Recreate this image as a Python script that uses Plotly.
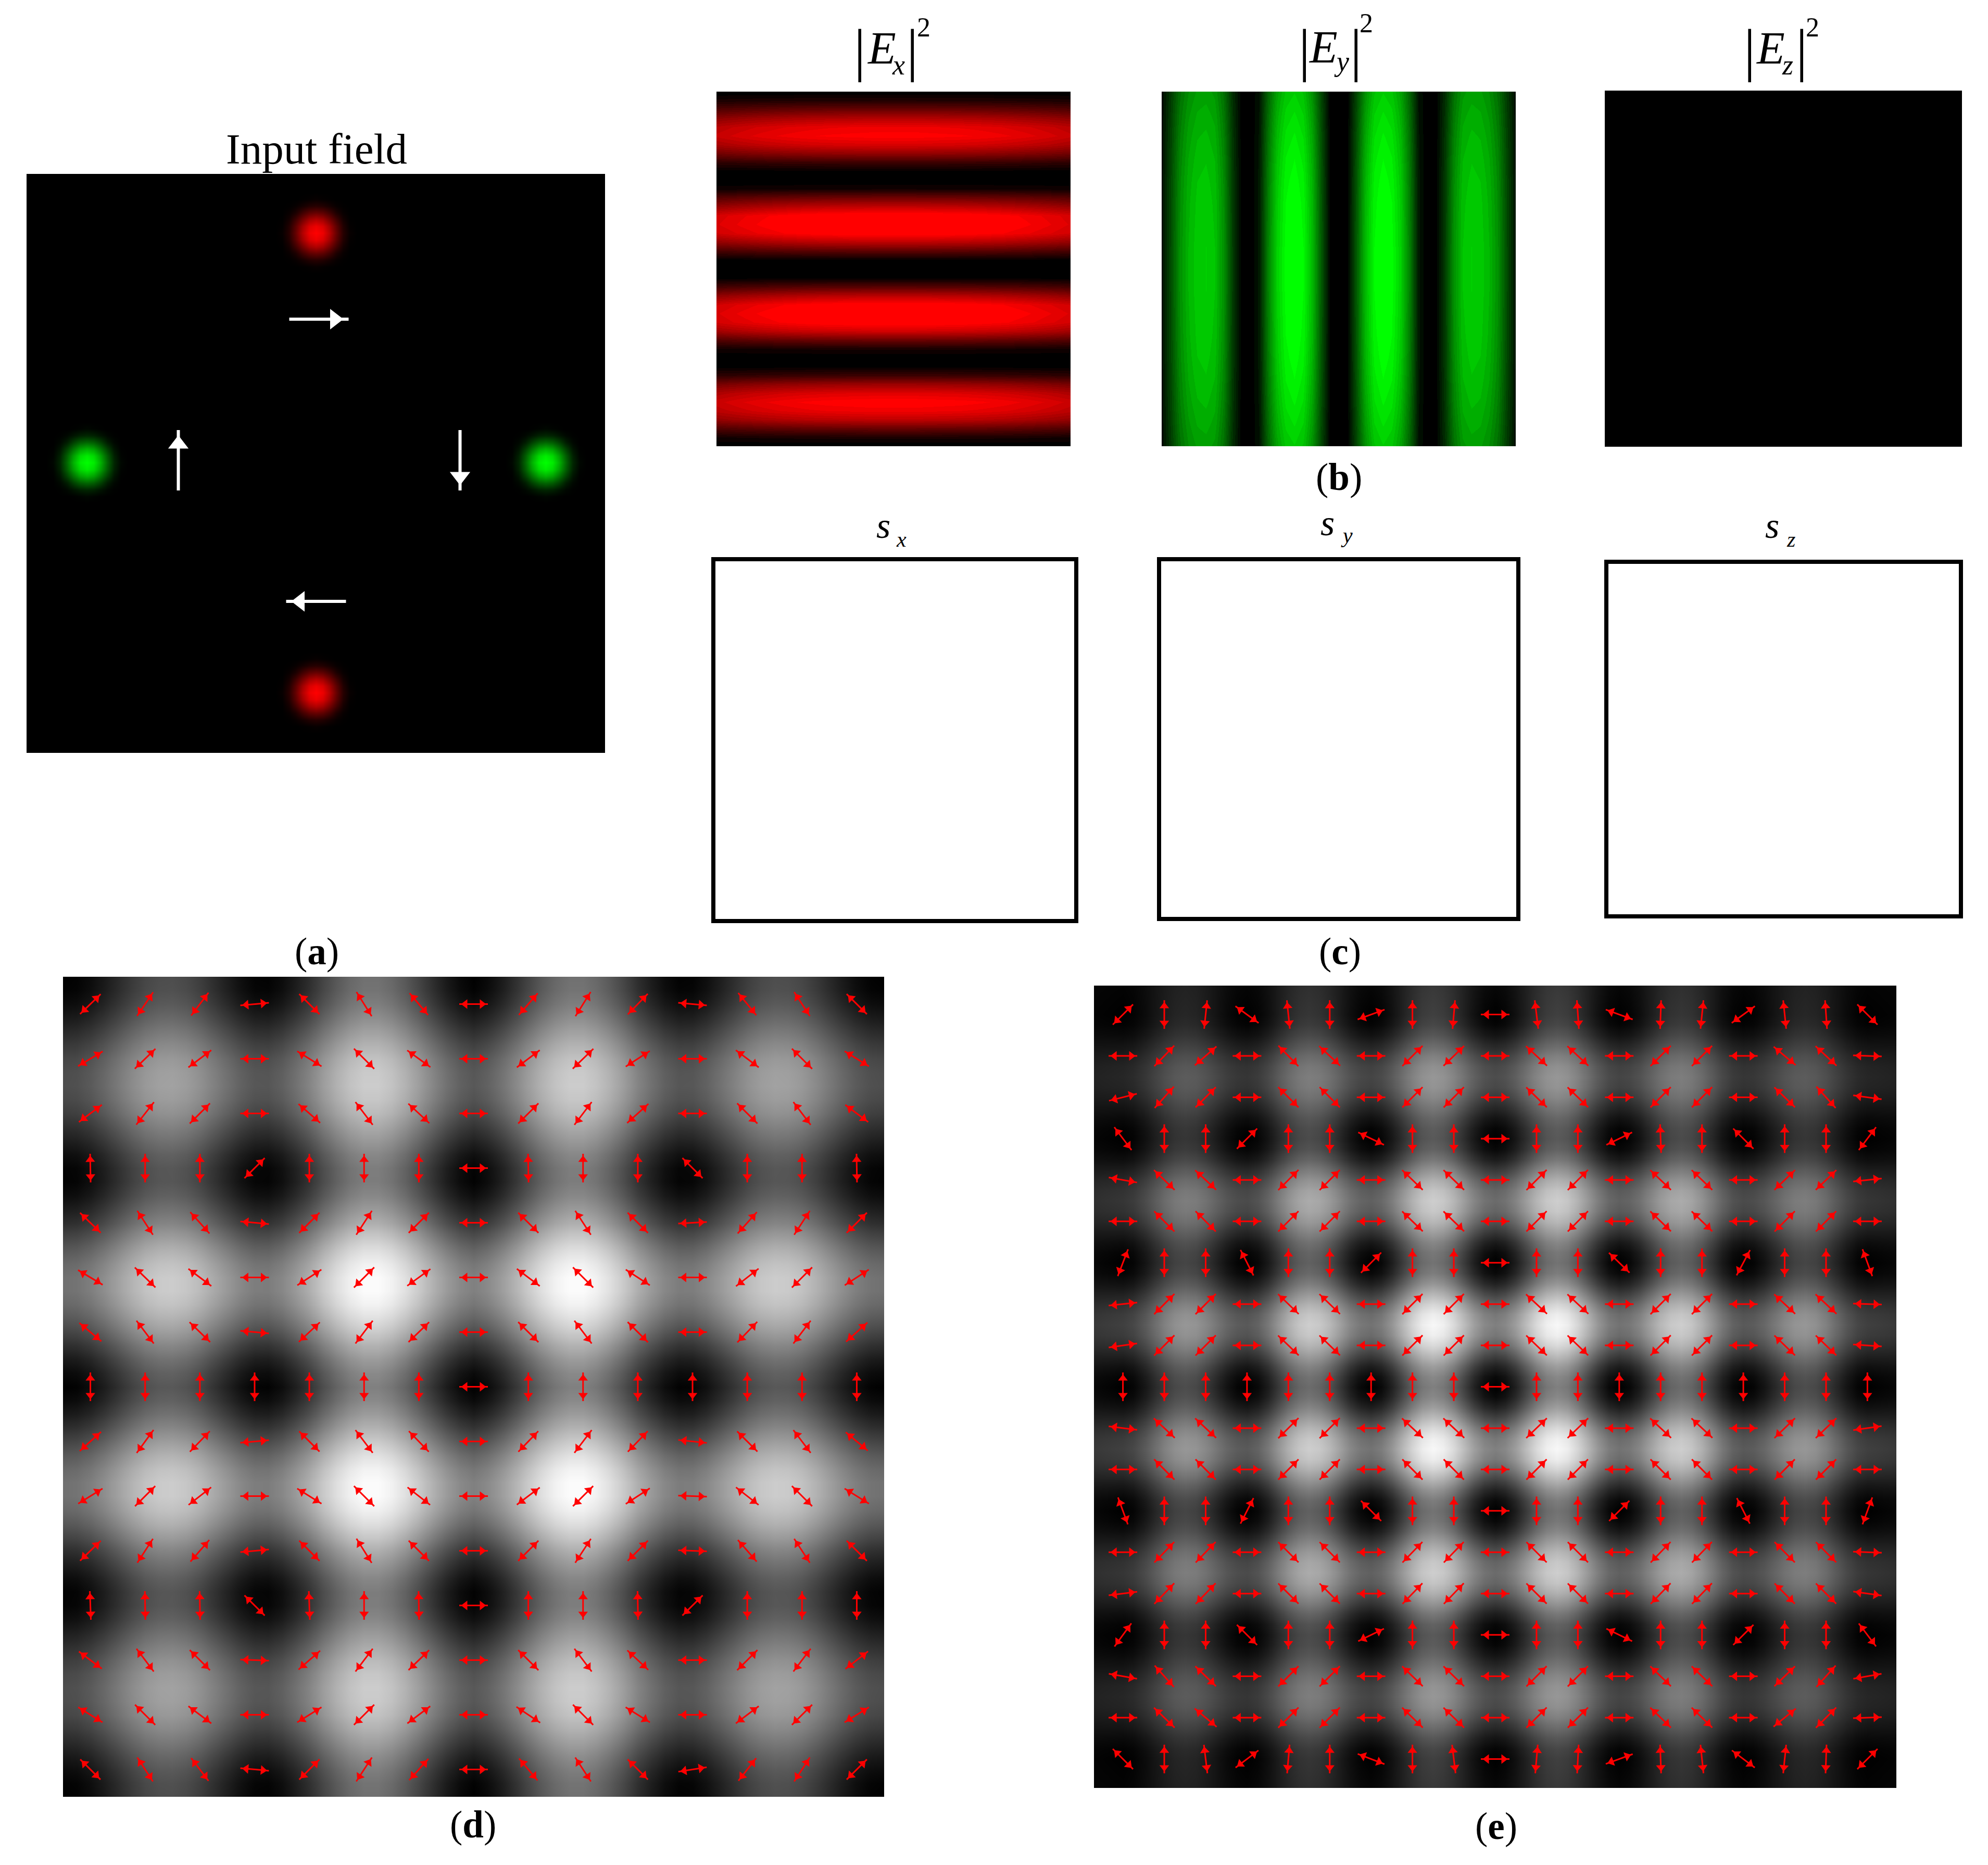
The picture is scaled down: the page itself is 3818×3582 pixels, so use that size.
import numpy as np
import plotly.graph_objects as go

W, H = 3818, 3582

# ---------- values ----------
spot_offsets = [-78, -65, -52, -39, -26, -13, 0, 13, 26, 39, 52, 65, 78]
spot_values = [
    [0, 0, 0, 0, 0, 0, 0, 0, 0, 0, 0, 0, 0],
    [0, 0, 0, 0, .005, .015, .03, .015, .005, 0, 0, 0, 0],
    [0, 0, .005, .03, .08, .13, .15, .13, .08, .03, .005, 0, 0],
    [0, 0, .03, .11, .25, .36, .40, .36, .25, .11, .03, 0, 0],
    [0, .005, .08, .25, .45, .63, .70, .63, .45, .25, .08, .005, 0],
    [0, .015, .13, .36, .63, .85, .93, .85, .63, .36, .13, .015, 0],
    [0, .03, .15, .40, .70, .93, 1.0, .93, .70, .40, .15, .03, 0],
    [0, .015, .13, .36, .63, .85, .93, .85, .63, .36, .13, .015, 0],
    [0, .005, .08, .25, .45, .63, .70, .63, .45, .25, .08, .005, 0],
    [0, 0, .03, .11, .25, .36, .40, .36, .25, .11, .03, 0, 0],
    [0, 0, .005, .03, .08, .13, .15, .13, .08, .03, .005, 0, 0],
    [0, 0, 0, 0, .005, .015, .03, .015, .005, 0, 0, 0, 0],
    [0, 0, 0, 0, 0, 0, 0, 0, 0, 0, 0, 0, 0],
]
red_spot_x = [0, 0]
red_spot_y = [-443, 440]
green_spot_x = [-440, 441]
green_spot_y = [-2, -2]

white_x0 = [-51, -264, 277, 58]
white_y0 = [-277, 52, -64, 265]
white_x1 = [63, -264, 277, -57]
white_y1 = [-277, -64, 52, 265]

ex_rows = [0, .12, .40, .73, .92, 1.0, .86, .60, .24, .03, 0, .11, .42, .80, 1.03, 1.08, 1.02, .72, .35, .04, 0,
           .04, .36, .72, 1.02, 1.08, 1.05, .75, .44, .10, 0, .03, .24, .56, .83, .98, .91, .69, .41, .15, 0]
ex_cols = [.78, .84, .89, .93, .96, .98, .99, 1, 1, 1, .99, .98, .96, .93, .89, .84, .78]
ey_cols = [.08, .30, .55, .70, .78, .80, .75, .56, .25, .03, 0, .12, .50, .80, .97, 1.02, .95, .72, .36, .04, 0,
           .04, .36, .72, .95, 1.02, .97, .80, .50, .12, 0, .03, .25, .56, .75, .80, .78, .70, .55, .30, .08]
ey_rows = [.78, .84, .89, .93, .96, .98, .99, 1, 1, 1, .99, .98, .96, .93, .89, .84, .78]
ez_values = [[0, 0], [0, 0]]

d_grid = [-.5, -.25, 0, .25, .5, .75, 1, 1.25, 1.5, 1.75, 2, 2.25, 2.5, 2.75, 3, 3.25, 3.5, 3.75, 4, 4.25, 4.5, 4.75,
          5, 5.25, 5.5, 5.75, 6, 6.25, 6.5, 6.75, 7, 7.25, 7.5, 7.75, 8, 8.25, 8.5, 8.75, 9, 9.25, 9.5, 9.75, 10,
          10.25, 10.5, 10.75, 11, 11.25, 11.5, 11.75, 12, 12.25, 12.5, 12.75, 13, 13.25, 13.5, 13.75, 14, 14.25, 14.5]
d_band = [0, .01, .05, .11, .18, .25, .31, .34, .345, .32, .27, .20, .13, .06, .015, .01, .05, .12, .20, .30, .39, .46,
          .50, .50, .46, .39, .30, .20, .11, .04, 0, .04, .11, .20, .30, .39, .46, .50, .50, .46, .39, .30, .20,
          .12, .05, .01, .015, .06, .13, .20, .27, .32, .345, .34, .31, .25, .18, .11, .05, .01, 0]
d_fade = [.88, .885, .89, .895, .90, .905, .91, .915, .92, .925, .93, .935, .94, .945, .95, .955, .96, .965, .97, .975,
          .98, .98, .985, .985, .99, .99, .995, .995, 1, 1, 1, 1, 1, .995, .995, .99, .99, .985, .985, .98, .98,
          .975, .97, .965, .96, .955, .95, .945, .94, .935, .93, .925, .92, .915, .91, .905, .90, .895, .89, .885, .88]

e_grid = [-.75, -.5, -.25, 0, .25, .5, .75, 1, 1.25, 1.5, 1.75, 2, 2.25, 2.5, 2.75, 3, 3.25, 3.5, 3.75, 4, 4.25, 4.5,
          4.75, 5, 5.25, 5.5, 5.75, 6, 6.25, 6.5, 6.75, 7, 7.25, 7.5, 7.75, 8, 8.25, 8.5, 8.75, 9, 9.25, 9.5, 9.75,
          10, 10.25, 10.5, 10.75, 11, 11.25, 11.5, 11.75, 12, 12.25, 12.5, 12.75, 13, 13.25, 13.5, 13.75, 14, 14.25,
          14.5, 14.75, 15, 15.25, 15.5, 15.75, 16, 16.25, 16.5, 16.75, 17, 17.25, 17.5, 17.75, 18, 18.25, 18.5, 18.75]
e_band = [.03, .02, .01, 0, .02, .075, .15, .225, .28, .30, .28, .225, .15, .075, .02, 0,
          .03, .105, .21, .315, .39, .42, .39, .315, .21, .105, .03, 0,
          .035, .125, .25, .375, .465, .50, .465, .375, .25, .125, .035, 0,
          .035, .125, .25, .375, .465, .50, .465, .375, .25, .125, .035, 0,
          .03, .105, .21, .315, .39, .42, .39, .315, .21, .105, .03, 0,
          .02, .075, .15, .225, .28, .30, .28, .225, .15, .075, .02, 0, .01, .02, .03]
e_fade = [.38, .42, .46, .50, .52, .535, .55, .57, .585, .60, .615, .635, .65, .665, .685, .70, .715, .735, .75, .765,
          .785, .80, .815, .835, .85, .865, .885, .90, .91, .925, .94, .95, .96, .97, .98, .985, .99, .995, 1.0, 1.0,
          1.0, .995, .99, .985, .98, .97, .96, .95, .94, .925, .91, .90, .885, .865, .85, .835, .815, .80, .785, .765,
          .75, .735, .715, .70, .685, .665, .65, .635, .615, .60, .585, .57, .55, .535, .52, .50, .46, .42, .38]

# orientation of each double arrow, degrees counter-clockwise from +x, top row first
d_angles = [
    [44, 56, 53, 5, 135, 122, 130, 0, 49, 58, 46, 175, 129, 123, 135],
    [31, 44, 37, 0, 148, 135, 144, 0, 37, 44, 33, 0, 143, 135, 148],
    [37, 52, 45, 0, 139, 127, 137, 0, 45, 53, 42, 0, 135, 127, 143],
    [91, 90, 90, 45, 90, 90, 90, 0, 91, 90, 90, 135, 90, 90, 91],
    [136, 123, 132, 175, 45, 57, 45, 0, 135, 123, 135, 3, 48, 57, 45],
    [149, 136, 143, 0, 33, 45, 36, 0, 143, 135, 147, 0, 38, 45, 33],
    [140, 127, 136, 175, 43, 53, 44, 0, 135, 127, 135, 0, 46, 53, 42],
    [90, 90, 90, 90, 90, 90, 90, 0, 90, 90, 90, 90, 90, 90, 90],
    [42, 54, 46, 5, 135, 127, 134, 0, 46, 53, 46, 174, 135, 127, 140],
    [32, 45, 38, 0, 148, 135, 142, 0, 37, 45, 33, 178, 142, 135, 148],
    [44, 57, 49, 5, 135, 122, 135, 0, 45, 57, 45, 178, 131, 123, 135],
    [92, 91, 91, 135, 92, 90, 91, 0, 90, 90, 91, 45, 90, 90, 90],
    [143, 127, 135, 178, 41, 53, 44, 0, 135, 127, 137, 0, 45, 53, 38],
    [148, 135, 143, 0, 32, 45, 37, 0, 146, 135, 148, 0, 37, 45, 32],
    [135, 123, 127, 175, 45, 57, 48, 0, 130, 123, 135, 9, 52, 57, 45],
]
e_angles = [
    [45, 90, 84, 144, 96, 90, 20, 90, 85, 0, 97, 94, 160, 88, 84, 36, 96, 94, 135],
    [0, 46, 41, 0, 134, 137, 0, 45, 44, 0, 137, 137, 0, 45, 45, 0, 140, 137, 178],
    [14, 48, 45, 0, 135, 135, 0, 45, 45, 0, 136, 136, 0, 45, 45, 0, 136, 132, 172],
    [127, 90, 90, 45, 90, 90, 154, 90, 90, 0, 90, 90, 26, 92, 90, 135, 90, 90, 53],
    [170, 136, 137, 0, 45, 45, 0, 136, 136, 0, 45, 45, 0, 136, 136, 0, 44, 44, 6],
    [0, 135, 135, 0, 45, 45, 0, 136, 136, 0, 45, 45, 0, 136, 136, 0, 45, 45, 0],
    [69, 90, 90, 117, 90, 90, 45, 90, 90, 0, 90, 90, 136, 90, 90, 62, 90, 90, 110],
    [6, 45, 45, 0, 136, 136, 0, 45, 45, 0, 137, 137, 0, 45, 45, 0, 137, 137, 178],
    [8, 45, 45, 0, 136, 136, 0, 45, 45, 0, 136, 136, 0, 45, 45, 0, 136, 136, 176],
    [90, 90, 90, 90, 90, 90, 90, 90, 90, 0, 90, 90, 90, 90, 90, 90, 90, 90, 90],
    [173, 137, 137, 0, 45, 45, 0, 137, 137, 0, 44, 44, 0, 137, 137, 0, 44, 44, 8],
    [0, 135, 135, 0, 45, 45, 0, 135, 135, 0, 45, 45, 0, 135, 135, 0, 45, 45, 0],
    [110, 90, 90, 63, 90, 90, 135, 90, 90, 0, 90, 90, 45, 90, 90, 117, 90, 90, 70],
    [0, 46, 46, 0, 135, 135, 0, 46, 46, 0, 135, 135, 0, 46, 46, 0, 135, 135, 178],
    [7, 46, 46, 0, 135, 135, 0, 46, 46, 0, 135, 135, 0, 46, 46, 0, 135, 135, 172],
    [54, 90, 90, 135, 90, 90, 26, 90, 90, 0, 90, 90, 154, 90, 90, 45, 90, 90, 127],
    [170, 132, 136, 0, 45, 45, 0, 136, 136, 0, 45, 45, 0, 136, 136, 0, 44, 48, 10],
    [0, 136, 140, 0, 45, 45, 0, 136, 136, 0, 45, 45, 0, 136, 136, 0, 39, 45, 2],
    [135, 90, 97, 37, 85, 90, 159, 90, 97, 0, 85, 87, 20, 92, 96, 143, 84, 88, 45],
]

# ---------- layout helpers ----------
fig = go.Figure()
axis_count = 0


def panel(x0, x1, y0, y1, xr, yr):
    global axis_count
    axis_count += 1
    n = axis_count
    fig.layout[f"xaxis{n}"] = dict(domain=[x0 / W, x1 / W], range=list(xr), visible=False, fixedrange=True,
                                   anchor=f"y{n}")
    fig.layout[f"yaxis{n}"] = dict(domain=[1 - y1 / H, 1 - y0 / H], range=list(yr), visible=False, fixedrange=True,
                                   anchor=f"x{n}")
    return f"x{n}", f"y{n}"


def stepped(colour_of, levels=20):
    scale = []
    for i in range(levels):
        c = colour_of(i / (levels - 1))
        scale += [[i / levels, c], [(i + 1) / levels, c]]
    return scale


RED = [[0, "#000000"], [1, "#ff0000"]]
GREEN = [[0, "#000000"], [1, "#00ff00"]]
GRAY = [[0, "#000000"], [1, "#ffffff"]]
RED_STEP = stepped(lambda t: f"rgb({round(255 * t)},0,0)")
GREEN_STEP = stepped(lambda t: f"rgb(0,{round(255 * t)},0)")


def heat(ax, z, x, y, scale, smooth="best"):
    fig.add_trace(go.Heatmap(z=z, x=x, y=y, xaxis=ax[0], yaxis=ax[1], colorscale=scale, zmin=0, zmax=1,
                             zsmooth=smooth, showscale=False, hoverinfo="skip"))


def double_arrows(ax, angles, cell_px):
    half = 27.5 / cell_px
    head = 16.0 / cell_px
    lx, ly, mx, my, ma = [], [], [], [], []
    for r, row in enumerate(angles):
        for c, a in enumerate(row):
            ca, sa = np.cos(np.radians(a)), np.sin(np.radians(a))
            lx += [c - half * ca, c + half * ca, None]
            ly += [r + half * sa, r - half * sa, None]
            mx += [c + head * ca, c - head * ca]
            my += [r - head * sa, r + head * sa]
            ma += [90 - a, 270 - a]
    fig.add_trace(go.Scatter(x=lx, y=ly, xaxis=ax[0], yaxis=ax[1], mode="lines",
                             line=dict(color="#ff0000", width=3), hoverinfo="skip"))
    fig.add_trace(go.Scatter(x=mx, y=my, xaxis=ax[0], yaxis=ax[1], mode="markers", hoverinfo="skip",
                             marker=dict(symbol="triangle-up", size=16, color="#ff0000", angle=ma,
                                         line=dict(width=0))))


def label(x, base, text, size, style=""):
    """x = centre in page pixels, base = text baseline in page pixels"""
    if style == "i":
        text = f"<i>{text}</i>"
    fig.add_annotation(xref="paper", yref="paper", x=x / W, y=1 - (base + 0.21 * size) / H, text=text,
                       showarrow=False, xanchor="center", yanchor="bottom", borderpad=0, borderwidth=0,
                       font=dict(family="Liberation Serif", size=size, color="#000000"))


# ---------- (a) input field ----------
ax_a = panel(51, 1162, 334, 1446, (-555.5, 555.5), (556, -556))
heat(ax_a, ez_values, [-556, 556], [-556, 556], RED)
for cx, cy in zip(red_spot_x, red_spot_y):
    heat(ax_a, spot_values, [cx + o for o in spot_offsets], [cy + o for o in spot_offsets], RED)
for cx, cy in zip(green_spot_x, green_spot_y):
    heat(ax_a, spot_values, [cx + o for o in spot_offsets], [cy + o for o in spot_offsets], GREEN)
lx, ly, mx, my, ma = [], [], [], [], []
for xa, ya, xb, yb in zip(white_x0, white_y0, white_x1, white_y1):
    lx += [xa, xb, None]
    ly += [ya, yb, None]
    L = np.hypot(xb - xa, yb - ya)
    mx.append(xb - (xb - xa) * 27 / L)
    my.append(yb - (yb - ya) * 27 / L)
    ma.append(float(np.degrees(np.arctan2(xb - xa, -(yb - ya)))))
fig.add_trace(go.Scatter(x=lx, y=ly, xaxis=ax_a[0], yaxis=ax_a[1], mode="lines",
                         line=dict(color="#ffffff", width=6), hoverinfo="skip"))
fig.add_trace(go.Scatter(x=mx, y=my, xaxis=ax_a[0], yaxis=ax_a[1], mode="markers", hoverinfo="skip",
                         marker=dict(symbol="triangle-up", size=34, color="#ffffff", angle=ma, line=dict(width=0))))

# ---------- (b) intensities ----------
ax_ex = panel(1376, 2056, 176, 857, (0, 16), (0, 40))
heat(ax_ex, np.outer(ex_rows, ex_cols).tolist(), list(range(17)), list(range(41)), RED_STEP)
ax_ey = panel(2231, 2911, 176, 857, (0, 40), (0, 16))
heat(ax_ey, np.outer(ey_rows, ey_cols).tolist(), list(range(41)), list(range(17)), GREEN_STEP)
ax_ez = panel(3082, 3768, 174, 858, (0, 1), (0, 1))
heat(ax_ez, ez_values, [0, 1], [0, 1], RED)

# ---------- (c) empty Stokes boxes ----------
for x0, x1, y0, y1 in [(1370, 2067, 1074, 1769), (2226, 2916, 1074, 1765), (3085, 3766, 1079, 1760)]:
    fig.add_shape(type="rect", xref="paper", yref="paper", x0=x0 / W, x1=x1 / W, y0=1 - y0 / H, y1=1 - y1 / H,
                  line=dict(color="#000000", width=8), fillcolor="#ffffff")

# ---------- (d) and (e) ----------
ax_d = panel(121, 1698, 1876, 3451, (-0.5, 14.5), (14.5, -0.5))
heat(ax_d, (np.outer(d_band, d_fade) + np.outer(d_fade, d_band)).tolist(), d_grid, d_grid, GRAY)
double_arrows(ax_d, d_angles, 105.1)

ax_e = panel(2101, 3642, 1893, 3434, (-0.7, 18.7), (18.7, -0.7))
heat(ax_e, (np.outer(e_band, e_fade) + np.outer(e_fade, e_band)).tolist(), e_grid, e_grid, GRAY)
double_arrows(ax_e, e_angles, 79.4)

# ---------- text ----------
label(608, 315, "Input field", 83)
for bar0, bar1, ex_, sub_, sub_x, two, base, sub_base, sup_base in [
    (1651, 1752, 1693, "x", 1725, 1774, 123, 144, 70),
    (2505, 2604, 2541, "y", 2576, 2624, 121, 137, 62),
    (3360, 3460, 3400, "z", 3433, 3481, 123, 144, 70),
]:
    label(bar0, 134, "|", 112)
    label(bar1, 134, "|", 112)
    label(ex_, base, "E", 88, "i")
    label(sub_x, sub_base, sub_, 54, "i")
    label(two, sup_base, "2", 52)
for sx_, sbase, sub_, subx, subbase in [(1696, 1033, "x", 1731, 1050), (2549, 1028, "y", 2586, 1042),
                                        (3403, 1033, "z", 3439, 1050)]:
    label(sx_, sbase, "s", 70, "i")
    label(subx, subbase, sub_, 42, "i")
for cx, base, t in [(608, 1853, "a"), (2573, 1853, "c"), (2571, 942, "b"), (908, 3530, "d"), (2873, 3533, "e")]:
    label(cx, base, f"(<b>{t}</b>)", 73)

fig.update_layout(width=W, height=H, margin=dict(l=0, r=0, t=0, b=0), paper_bgcolor="#ffffff",
                  plot_bgcolor="#ffffff", showlegend=False)
fig.write_html("out.html", post_script="document.body.style.margin='0';",
               config={"displayModeBar": False})
